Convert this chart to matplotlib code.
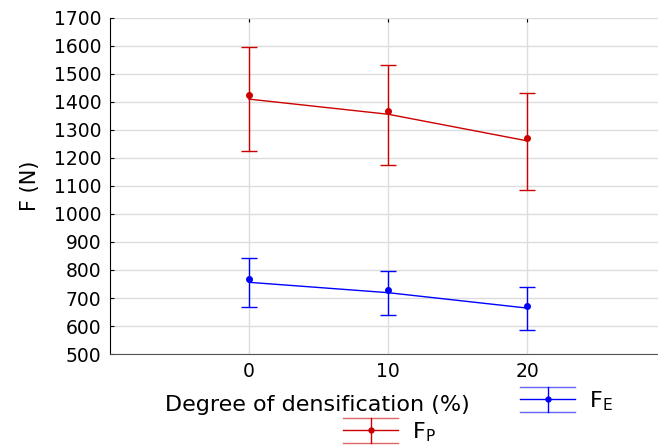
import matplotlib
matplotlib.use("Agg")
import matplotlib.pyplot as plt
from matplotlib.lines import Line2D
from matplotlib.legend_handler import HandlerBase

plt.rcParams['font.family'] = 'DejaVu Sans'

# degree of densification (%)
dens = [0, 10, 20]

# F_P : line (mean), dot, error bar upper / lower
fp_line = [1410, 1356, 1261]
fp_dot = [1424, 1367, 1271]
fp_hi = [1595, 1532, 1432]
fp_lo = [1224, 1175, 1087]

# F_E
fe_line = [756, 719, 664]
fe_dot = [767, 729, 671]
fe_hi = [844, 796, 739]
fe_lo = [669, 639, 587]

red = '#cc0000'
blue = '#0000ff'


class ErrHandle(HandlerBase):
    # legend symbol: three horizontal bars, a vertical bar and a dot
    def create_artists(self, legend, orig_handle, xdescent, ydescent,
                       width, height, fontsize, trans):
        c = orig_handle.get_color()
        x0 = -xdescent
        x1 = x0 + width
        xc = (x0 + x1) / 2
        ym = -ydescent + height / 2
        h = height * 0.8
        arts = [Line2D([x0, x1], [ym + h, ym + h], color=c, lw=1, alpha=0.6),
                Line2D([x0, x1], [ym, ym], color=c, lw=1),
                Line2D([x0, x1], [ym - h, ym - h], color=c, lw=1, alpha=0.6),
                Line2D([xc, xc], [ym - h, ym + h], color=c, lw=1),
                Line2D([xc], [ym], color=c, marker='o', ms=3.5, ls='none')]
        for a in arts:
            a.set_transform(trans)
        return arts


fig = plt.figure(figsize=(6.58, 4.47), dpi=100)
ax = fig.add_axes([0.167, 0.208, 0.833, 0.752])

for line, dot, hi, lo, c in [(fp_line, fp_dot, fp_hi, fp_lo, red),
                             (fe_line, fe_dot, fe_hi, fe_lo, blue)]:
    ax.plot(dens, line, color=c, lw=1, zorder=3)
    yerr = [[l - lo_ for l, lo_ in zip(line, lo)],
            [hi_ - l for l, hi_ in zip(line, hi)]]
    ax.errorbar(dens, line, yerr=yerr, fmt='none', ecolor=c, elinewidth=1,
                capsize=6, capthick=1, zorder=3)
    ax.plot(dens, dot, 'o', color=c, ms=4, zorder=4)

ax.set_xlim(-10, 29.4)
ax.set_ylim(500, 1700)
ax.set_xticks(dens)
ax.set_yticks(range(500, 1701, 100))
ax.grid(True, color='#dddddd', lw=1)
ax.set_axisbelow(True)

for s in ['top', 'right']:
    ax.spines[s].set_visible(False)
ax.spines['bottom'].set_color('#555555')
ax.spines['left'].set_color('black')
ax.tick_params(axis='both', direction='in', length=3, labelsize=13.5, top=True,
               bottom=False, pad=6)

ax.set_ylabel('F (N)', fontsize=15, labelpad=10)
ax.set_xlabel('Degree of densification (%)', fontsize=16, va='center')
ax.xaxis.set_label_coords(0.378, -0.152)

hE = Line2D([], [], color=blue)
hP = Line2D([], [], color=red)
fig.legend([hE], ['F$_\\mathregular{E}$'], loc='center left',
           bbox_to_anchor=(0.790, 0.103), frameon=False, borderpad=0,
           borderaxespad=0, handlelength=2.5, handletextpad=0.6, fontsize=16,
           handler_map={Line2D: ErrHandle()})
fig.legend([hP], ['F$_\\mathregular{P}$'], loc='center left',
           bbox_to_anchor=(0.521, 0.034), frameon=False, borderpad=0,
           borderaxespad=0, handlelength=2.5, handletextpad=0.6, fontsize=16,
           handler_map={Line2D: ErrHandle()})

fig.savefig('out.png', dpi=100)
